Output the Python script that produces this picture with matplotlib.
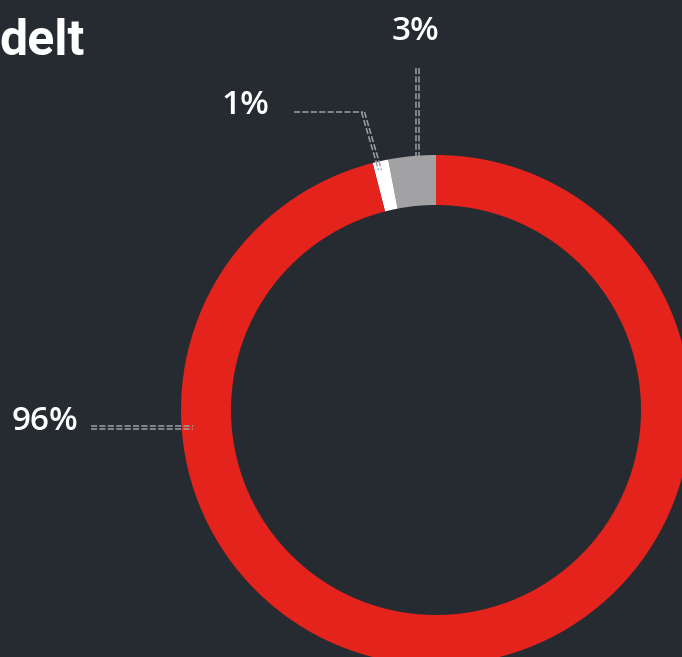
import numpy as np
import matplotlib
matplotlib.use("Agg")
import matplotlib.pyplot as plt

# share of each slice, starting at 12 o'clock and going counter-clockwise
labels = ["3%", "1%", "96%"]
shares = [3, 1, 96]
colors = ["#a2a2a4", "#ffffff", "#e3231c"]

BG = "#262a31"
LEADER = "#9ca0a6"
W, H = 682, 657


def y_img(y):
    # convert image-style y (down) to axis y (up)
    return H - y


fig = plt.figure(figsize=(W / 100, H / 100), dpi=100, facecolor=BG)
ax = fig.add_axes([0, 0, 1, 1])
ax.set_facecolor(BG)

# donut
ax.pie(
    shares,
    colors=colors,
    startangle=90,
    counterclock=True,
    center=(436, y_img(410)),
    radius=255,
    wedgeprops=dict(width=50, linewidth=0),
    frame=True,
)
ax.set_xlim(0, W)
ax.set_ylim(0, H)
ax.set_aspect("equal")
ax.axis("off")


def double_dashed(xs, ys, dx=0.0, dy=0.0):
    for k in (-0.5, 0.5):
        ax.plot(
            [x + k * dx for x in xs],
            [y_img(y) + k * dy for y in ys],
            color=LEADER, lw=1.1, ls=(0, (4, 1.5)), solid_capstyle="butt",
        )


# leader lines
double_dashed([417.5, 417.5], [68, 158], dx=3)
ax.plot([294, 363], [y_img(111.5), y_img(111.5)], color=LEADER, lw=1.1, ls=(0, (4, 1.5)))
double_dashed([363, 380], [112, 170], dx=3)
double_dashed([91, 193], [427.5, 427.5], dy=3)

# labels
txt = dict(color="white", fontsize=24, family=["Open Sans", "DejaVu Sans"],
           fontweight="semibold", ha="center", va="center")
ax.text(415, y_img(32), labels[0], **txt)
ax.text(245, y_img(105), labels[1], **txt)
ax.text(45, y_img(422), labels[2], **txt)

# cropped title
ax.text(85, y_img(55), "delt", color="white", fontsize=36, fontweight="bold",
        family=["Roboto", "DejaVu Sans"], ha="right", va="baseline")

fig.savefig("out.png", dpi=100, facecolor=BG)
